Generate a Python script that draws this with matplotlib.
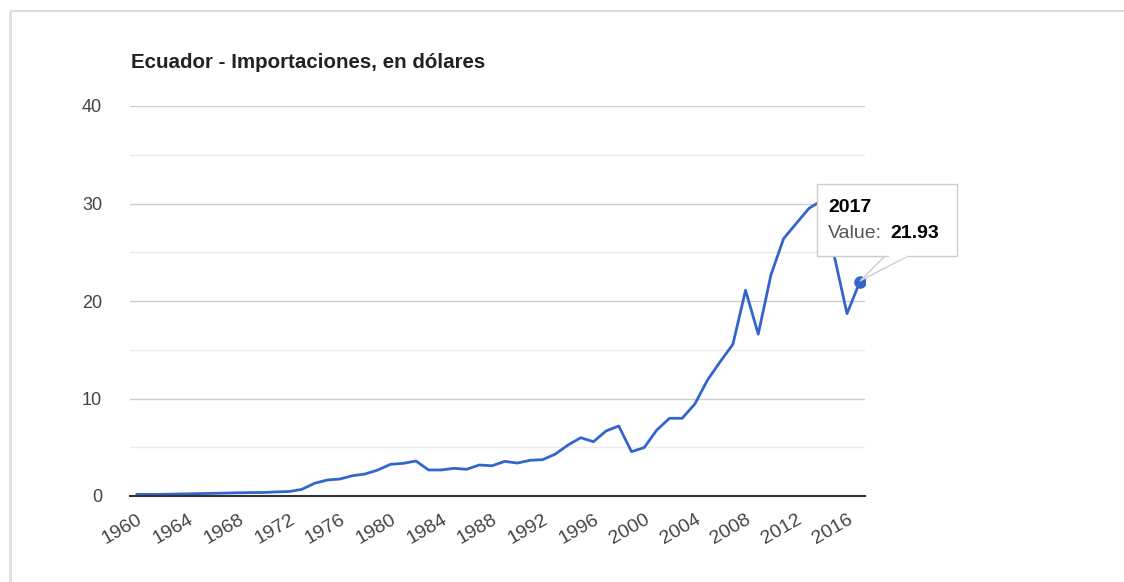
import numpy as np
import matplotlib.pyplot as plt
from matplotlib.patches import Rectangle, Polygon

# Imports of Ecuador, billions of US$
years = list(range(1960, 2018))
values = [0.17, 0.16, 0.17, 0.20, 0.22, 0.25, 0.27, 0.30, 0.33, 0.35,
          0.36, 0.42, 0.46, 0.68, 1.30, 1.64, 1.74, 2.08, 2.26, 2.67,
          3.25, 3.35, 3.59, 2.67, 2.67, 2.84, 2.74, 3.18, 3.10, 3.55,
          3.38, 3.66, 3.73, 4.30, 5.23, 5.98, 5.57, 6.67, 7.18, 4.55,
          4.96, 6.77, 7.97, 7.97, 9.44, 11.9, 13.77, 15.56, 21.1, 16.6,
          22.67, 26.4, 27.96, 29.5, 30.3, 24.6, 18.7, 21.93]
xticks = list(range(1960, 2017, 4))
yticks = [0, 10, 20, 30, 40]

W, H = 1124, 582
plt.rcParams['font.family'] = ['Liberation Sans', 'DejaVu Sans']
fig = plt.figure(figsize=(W / 100, H / 100), dpi=100)


def px(x, y):
    return (x / W, 1 - y / H)


# card border with shadow
fig.patches.append(Rectangle((11 / W, -0.05), 1.2, (H - 11) / H + 0.05,
                             transform=fig.transFigure, facecolor='white',
                             edgecolor='#d6d6d6', linewidth=1.2, zorder=-2))
fig.patches.append(Rectangle((9 / W, -0.05), 3 / W, (H - 11) / H + 0.05,
                             transform=fig.transFigure, facecolor='#e2e2e2',
                             edgecolor='none', zorder=-2))

ax = fig.add_axes([130 / W, (H - 496) / H, 735 / W, 390 / H])
ax.set_zorder(2)
ax.set_facecolor('none')
ax.plot(years, values, color='#3366cc', linewidth=2.0, zorder=3)
ax.plot(years[-1], values[-1], 'o', color='#3366cc', markersize=8, zorder=4)

ax.set_xlim(1959.45, 2017.42)
ax.set_ylim(0, 40)
ax.set_yticks(yticks)
ax.set_yticks([5, 15, 25, 35], minor=True)
ax.set_xticks(xticks)
ax.set_xticklabels([str(y) for y in xticks], rotation=30, ha='right',
                   rotation_mode='anchor')
ax.grid(axis='y', which='major', color='#cccccc', linewidth=1.0)
ax.grid(axis='y', which='minor', color='#ebebeb', linewidth=1.0)
ax.tick_params(axis='both', which='both', length=0, labelcolor='#444444')
ax.tick_params(axis='y', labelsize=13, pad=20)
ax.tick_params(axis='x', labelsize=14, pad=11)
for s in ['top', 'right', 'left']:
    ax.spines[s].set_visible(False)
ax.spines['bottom'].set_color('#333333')
ax.spines['bottom'].set_linewidth(1.5)
ax.spines['bottom'].set_zorder(5)

fig.text(131 / W, 1 - 62 / H, 'Ecuador - Importaciones, en dólares',
         fontsize=14.8, fontweight='bold', color='#222222', va='center')

# tooltip
tail = Polygon([px(886, 255), px(910, 255), px(860, 281)], closed=True,
               transform=fig.transFigure, facecolor='white',
               edgecolor='#cccccc', linewidth=1, zorder=6)
box = Rectangle(px(817, 256), 140 / W, 72 / H, transform=fig.transFigure,
                facecolor='white', edgecolor='#cccccc', linewidth=1, zorder=7)
cover = Polygon([px(887, 255.3), px(909, 255.3), px(897, 261)], closed=True,
                transform=fig.transFigure, facecolor='white',
                edgecolor='none', zorder=8)
fig.patches.extend([tail, box, cover])
fig.text(*px(828, 207), str(years[-1]), fontsize=14, fontweight='bold',
         color='#000000', va='center', zorder=9)
fig.text(*px(828, 233), 'Value:', fontsize=14, color='#555555',
         va='center', zorder=9)
fig.text(*px(890, 233), f'{values[-1]:.2f}', fontsize=14, fontweight='bold',
         color='#000000', va='center', zorder=9)

fig.savefig('out.png', dpi=100)
